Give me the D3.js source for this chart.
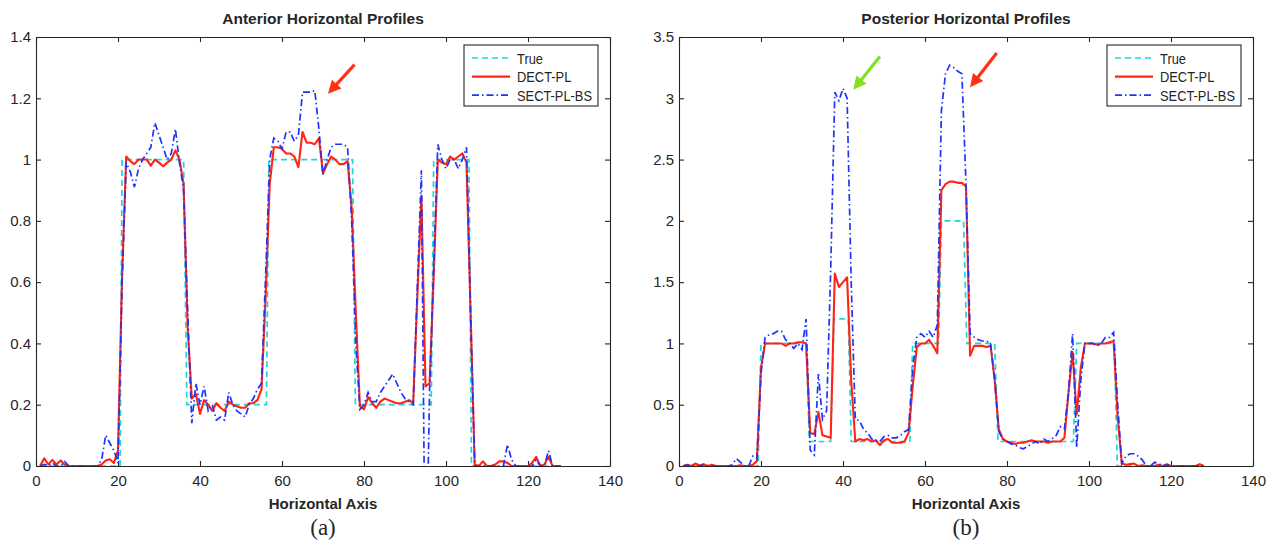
<!DOCTYPE html>
<html>
<head>
<meta charset="utf-8">
<script src="https://cdn.jsdelivr.net/npm/d3@7/dist/d3.min.js"></script>
<style>
body { margin: 0; background: #fff; }
svg text { font-family: "Liberation Sans", Arial, sans-serif; fill: #262626; }
</style>
</head>
<body>
<svg id="chart" width="1282" height="546"></svg>
<script>
'use strict';

const xTicks = [0, 20, 40, 60, 80, 100, 120, 140];
const antYTicks = [0, 0.2, 0.4, 0.6, 0.8, 1, 1.2, 1.4];
const postYTicks = [0, 0.5, 1, 1.5, 2, 2.5, 3, 3.5];
const seriesNames = ['True', 'DECT-PL', 'SECT-PL-BS'];

// true profiles are piecewise constant: [pixel position, value] breakpoints
const antTrue = [[1, 0], [20.5, 0], [21, 1], [36, 1], [36.8, 0.2], [56.2, 0.2], [56.8, 1], [77.2, 1],
    [77.9, 0.2], [96.4, 0.2], [97, 1], [105.6, 1], [106.2, 0], [128, 0]];
const postTrue = [[1, 0], [19.3, 0], [20, 1], [31, 1], [31.8, 0.2], [37, 0.2], [37.8, 1.2], [41.3, 1.2],
    [42, 0.2], [56.3, 0.2], [57, 1], [63.3, 1], [64, 2], [69.4, 2], [70.2, 1], [77, 1], [77.8, 0.2],
    [96.2, 0.2], [97, 1], [106.2, 1], [106.9, 0], [128, 0]];

// reconstructions, one value per pixel index 1..128
const antDect = [
    0, 0.025, 0.005, 0.02, 0.005, 0.018, 0.005, 0, 0, 0,
    0, 0, 0, 0, 0, 0.005, 0.018, 0.022, 0.01, 0.05,
    0.62, 1.01, 0.995, 0.985, 1.0, 1.0, 1.0, 0.98, 1.0, 0.99,
    0.978, 0.99, 1.0, 1.03, 1.0, 0.92, 0.45, 0.22, 0.235, 0.17,
    0.215, 0.2, 0.18, 0.205, 0.19, 0.18, 0.21, 0.2, 0.195, 0.19,
    0.19, 0.205, 0.205, 0.215, 0.25, 0.55, 0.92, 1.04, 1.04, 1.035,
    1.02, 1.02, 1.01, 0.975, 1.09, 1.055, 1.055, 1.05, 1.07, 0.955,
    0.985, 1.01, 1.0, 0.985, 0.985, 0.995, 0.84, 0.5, 0.195, 0.185,
    0.225, 0.205, 0.19, 0.21, 0.22, 0.215, 0.21, 0.205, 0.205, 0.21,
    0.215, 0.205, 0.55, 0.88, 0.26, 0.27, 0.62, 1.0, 0.99, 0.985,
    1.01, 1.0, 1.01, 1.02, 0.99, 0.5, 0.005, 0, 0.015, 0,
    0, 0.005, 0.015, 0.015, 0.01, 0, 0, 0, 0, 0,
    0.01, 0.03, 0, 0.005, 0.03, 0, 0, 0
];
const antSect = [
    0, 0.005, 0, 0.01, 0, 0, 0.015, 0, 0, 0,
    0, 0, 0, 0, 0, 0.02, 0.1, 0.075, 0.05, 0.01,
    0.6, 0.99, 0.96, 0.91, 0.97, 1.0, 1.02, 1.04, 1.12, 1.08,
    1.04, 1.0, 1.02, 1.1, 0.99, 0.9, 0.5, 0.14, 0.27, 0.2,
    0.26, 0.18, 0.2, 0.15, 0.16, 0.15, 0.24, 0.2, 0.18, 0.17,
    0.16, 0.2, 0.22, 0.25, 0.27, 0.62, 1.0, 1.07, 1.06, 1.035,
    1.09, 1.09, 1.06, 1.08, 1.22, 1.22, 1.22, 1.225, 1.1, 0.95,
    1.0, 1.04, 1.05, 1.05, 1.05, 1.04, 0.8, 0.4, 0.185, 0.2,
    0.24, 0.21, 0.21, 0.24, 0.26, 0.28, 0.3, 0.27, 0.24, 0.22,
    0.21, 0.2, 0.58, 0.965, -0.5, 0.25, 0.65, 1.05, 1.0, 0.97,
    1.0, 1.0, 0.97, 1.0, 1.04, 0.5, 0, 0, 0, 0,
    0, 0, 0, 0, 0.07, 0.02, 0, 0, 0, 0,
    0, 0.02, 0, 0, 0.05, 0, 0, 0
];
const postDect = [
    0, 0.01, 0, 0.02, 0.005, 0.015, 0, 0.01, 0, 0,
    0, 0, 0, 0, 0.005, 0, 0, 0.01, 0.04, 0.8,
    1.0, 1.0, 1.0, 1.0, 1.0, 0.98, 1.0, 1.0, 1.01, 1.01,
    1.0, 0.27, 0.26, 0.44, 0.25, 0.24, 0.23, 1.57, 1.46, 1.5,
    1.54, 0.7, 0.2, 0.22, 0.21, 0.22, 0.2, 0.21, 0.17, 0.21,
    0.22, 0.19, 0.19, 0.19, 0.2, 0.27, 0.65, 0.97, 1.0, 1.0,
    1.03, 0.98, 0.92, 2.25, 2.3, 2.32, 2.32, 2.31, 2.31, 2.28,
    0.9, 0.98, 0.98, 0.98, 0.97, 0.98, 0.7, 0.3, 0.22, 0.2,
    0.19, 0.18, 0.19, 0.19, 0.2, 0.21, 0.2, 0.2, 0.2, 0.19,
    0.2, 0.2, 0.2, 0.23, 0.6, 0.93, 0.42, 0.8, 1.0, 1.0,
    1.0, 0.99, 1.0, 1.0, 1.01, 1.02, 0.4, 0.02, 0.01, 0.015,
    0.02, 0, 0.005, 0, 0, 0, 0.01, 0, 0.015, 0,
    0, 0, 0, 0, 0, 0, 0.015, 0
];
const postSect = [
    0, 0.01, 0, 0.005, 0, 0.01, 0, 0, 0, 0,
    0, 0, 0.01, 0.06, 0.03, 0, 0, 0.08, 0.06, 0.75,
    1.05, 1.07, 1.08, 1.1, 1.1, 1.03, 1.0, 0.96, 1.0, 0.95,
    1.2, 0.13, 0.09, 0.75, 0.38, 0.45, 1.6, 3.05, 2.98, 3.08,
    3.0, 1.5, 0.38, 0.37, 0.3, 0.27, 0.22, 0.21, 0.2, 0.24,
    0.25, 0.23, 0.23, 0.25, 0.28, 0.3, 0.8, 1.05, 1.08, 1.05,
    1.1, 1.05, 1.15, 2.9, 3.2, 3.27, 3.25, 3.22, 3.2, 2.3,
    1.08, 1.05, 1.03, 1.02, 1.02, 1.0, 0.7, 0.28, 0.22, 0.2,
    0.18, 0.17, 0.15, 0.14, 0.16, 0.18, 0.2, 0.18, 0.22, 0.2,
    0.22, 0.25, 0.32, 0.3, 0.6, 1.08, 0.15, 0.7, 1.0, 1.0,
    1.0, 0.98, 1.0, 1.05, 1.05, 1.09, 0.5, 0.02, 0.08, 0.1,
    0.1, 0.08, 0.05, 0, 0, 0.03, 0.02, 0, 0.01, 0,
    0, 0, 0, 0, 0, 0, 0, 0
];

// annotation arrows in data units: tail -> tip
const antArrows = [{from: [77.7, 1.31], to: [71.2, 1.215], color: '#ff3218'}];
const postArrows = [
    {from: [49.0, 3.34], to: [42.5, 3.07], color: '#7ee21f'},
    {from: [77.5, 3.37], to: [71.0, 3.09], color: '#ff3218'}
];

const conf = {
    top: 37, bottom: 466, plotWidth: 574, tickLen: 5,
    colors: {true: '#1fd6d6', dect: '#ff2414', sect: '#1f33ff'},
    axisColor: '#262626'
};

const panels = [
    {id: 'ant', left: 36, title: 'Anterior Horizontal Profiles', caption: '(a)', yMax: 1.4,
        yTicks: antYTicks, trueData: antTrue, dect: antDect, sect: antSect, arrows: antArrows},
    {id: 'post', left: 679, title: 'Posterior Horizontal Profiles', caption: '(b)', yMax: 3.5,
        yTicks: postYTicks, trueData: postTrue, dect: postDect, sect: postSect, arrows: postArrows}
];

const svg = d3.select('#chart');
const defs = svg.append('defs');

function indexed(values) {
    return values.map(function(v, i) { return [i + 1, v]; });
}

function drawPanel(p) {
    let x = d3.scaleLinear().domain([0, 140]).range([p.left, p.left + conf.plotWidth]);
    let y = d3.scaleLinear().domain([0, p.yMax]).range([conf.bottom, conf.top]);
    let g = svg.append('g').attr('class', 'panel-' + p.id);
    let cx = p.left + conf.plotWidth / 2;

    defs.append('clipPath').attr('id', 'clip-' + p.id)
        .append('rect')
        .attr('x', p.left).attr('y', conf.top)
        .attr('width', conf.plotWidth).attr('height', conf.bottom - conf.top);

    // matlab-style box with inward ticks on all four sides
    let fmt = function(d) { return String(d); };
    let axes = [
        {gen: d3.axisBottom(x).tickValues(xTicks).tickFormat(fmt).tickPadding(9), at: [0, conf.bottom]},
        {gen: d3.axisTop(x).tickValues(xTicks).tickFormat(''), at: [0, conf.top]},
        {gen: d3.axisLeft(y).tickValues(p.yTicks).tickFormat(fmt).tickPadding(5), at: [p.left, 0]},
        {gen: d3.axisRight(y).tickValues(p.yTicks).tickFormat(''), at: [p.left + conf.plotWidth, 0]}
    ];
    axes.forEach(function(a) {
        let ag = g.append('g')
            .attr('transform', 'translate(' + a.at[0] + ',' + a.at[1] + ')')
            .call(a.gen.tickSizeInner(-conf.tickLen).tickSizeOuter(0));
        ag.select('.domain').attr('stroke', conf.axisColor).attr('stroke-width', 1.1);
        ag.selectAll('.tick line').attr('stroke', conf.axisColor).attr('stroke-width', 1.1);
        ag.selectAll('.tick text')
            .attr('font-size', 15).attr('font-family', null).attr('fill', '#2b2b2b');
    });

    let line = d3.line()
        .x(function(d) { return x(d[0]); })
        .y(function(d) { return y(d[1]); });

    let plot = g.append('g').attr('clip-path', 'url(#clip-' + p.id + ')');
    plot.append('path').datum(p.trueData)
        .attr('d', line).attr('fill', 'none')
        .attr('stroke', conf.colors.true).attr('stroke-width', 1.7)
        .attr('stroke-dasharray', '6,4');
    plot.append('path').datum(indexed(p.dect))
        .attr('d', line).attr('fill', 'none')
        .attr('stroke', conf.colors.dect).attr('stroke-width', 2.1)
        .attr('stroke-linejoin', 'round');
    plot.append('path').datum(indexed(p.sect))
        .attr('d', line).attr('fill', 'none')
        .attr('stroke', conf.colors.sect).attr('stroke-width', 1.7)
        .attr('stroke-dasharray', '7,3,1.5,3');

    // arrows
    p.arrows.forEach(function(a) {
        let x0 = x(a.from[0]), y0 = y(a.from[1]);
        let x1 = x(a.to[0]), y1 = y(a.to[1]);
        let len = Math.sqrt((x1 - x0) * (x1 - x0) + (y1 - y0) * (y1 - y0));
        let ux = (x1 - x0) / len, uy = (y1 - y0) / len;
        let headLen = 13, headHalf = 6.5;
        let bx = x1 - ux * headLen, by = y1 - uy * headLen;
        g.append('line')
            .attr('x1', x0).attr('y1', y0).attr('x2', bx + ux * 2).attr('y2', by + uy * 2)
            .attr('stroke', a.color).attr('stroke-width', 3.2);
        g.append('path')
            .attr('d', 'M' + x1 + ',' + y1 +
                'L' + (bx - uy * headHalf) + ',' + (by + ux * headHalf) +
                'L' + (bx + uy * headHalf) + ',' + (by - ux * headHalf) + 'Z')
            .attr('fill', a.color);
    });

    // legend
    let lw = 134, lh = 61;
    let lx = p.left + conf.plotWidth - 12 - lw, ly = 45;
    let legend = g.append('g').attr('class', 'legend')
        .attr('transform', 'translate(' + lx + ',' + ly + ')');
    legend.append('rect')
        .attr('width', lw).attr('height', lh)
        .attr('fill', '#fff').attr('stroke', conf.axisColor).attr('stroke-width', 1.1);
    let styles = [
        {color: conf.colors.true, width: 1.7, dash: '6,4'},
        {color: conf.colors.dect, width: 2.1, dash: null},
        {color: conf.colors.sect, width: 1.7, dash: '7,3,1.5,3'}
    ];
    seriesNames.forEach(function(name, i) {
        let ry = 13 + i * 18.6;
        legend.append('line')
            .attr('x1', 8).attr('x2', 46).attr('y1', ry).attr('y2', ry)
            .attr('stroke', styles[i].color).attr('stroke-width', styles[i].width)
            .attr('stroke-dasharray', styles[i].dash);
        // the source figure uses a condensed face; squeeze it horizontally
        legend.append('text')
            .attr('transform', 'translate(53,' + ry + ') scale(0.83,1)')
            .attr('dy', '0.36em')
            .attr('font-size', 15.5).text(name);
    });

    g.append('text')
        .attr('x', cx).attr('y', 24).attr('text-anchor', 'middle')
        .attr('font-size', 15.5).attr('font-weight', 'bold').text(p.title);
    g.append('text')
        .attr('x', cx).attr('y', 509).attr('text-anchor', 'middle')
        .attr('font-size', 15).attr('font-weight', 'bold').text('Horizontal Axis');
    g.append('text')
        .attr('x', cx).attr('y', 535).attr('text-anchor', 'middle')
        .style('font-family', '"Liberation Serif", "Times New Roman", serif')
        .attr('font-size', 23).attr('fill', '#111').text(p.caption);
}

panels.forEach(drawPanel);
</script>
</body>
</html>
